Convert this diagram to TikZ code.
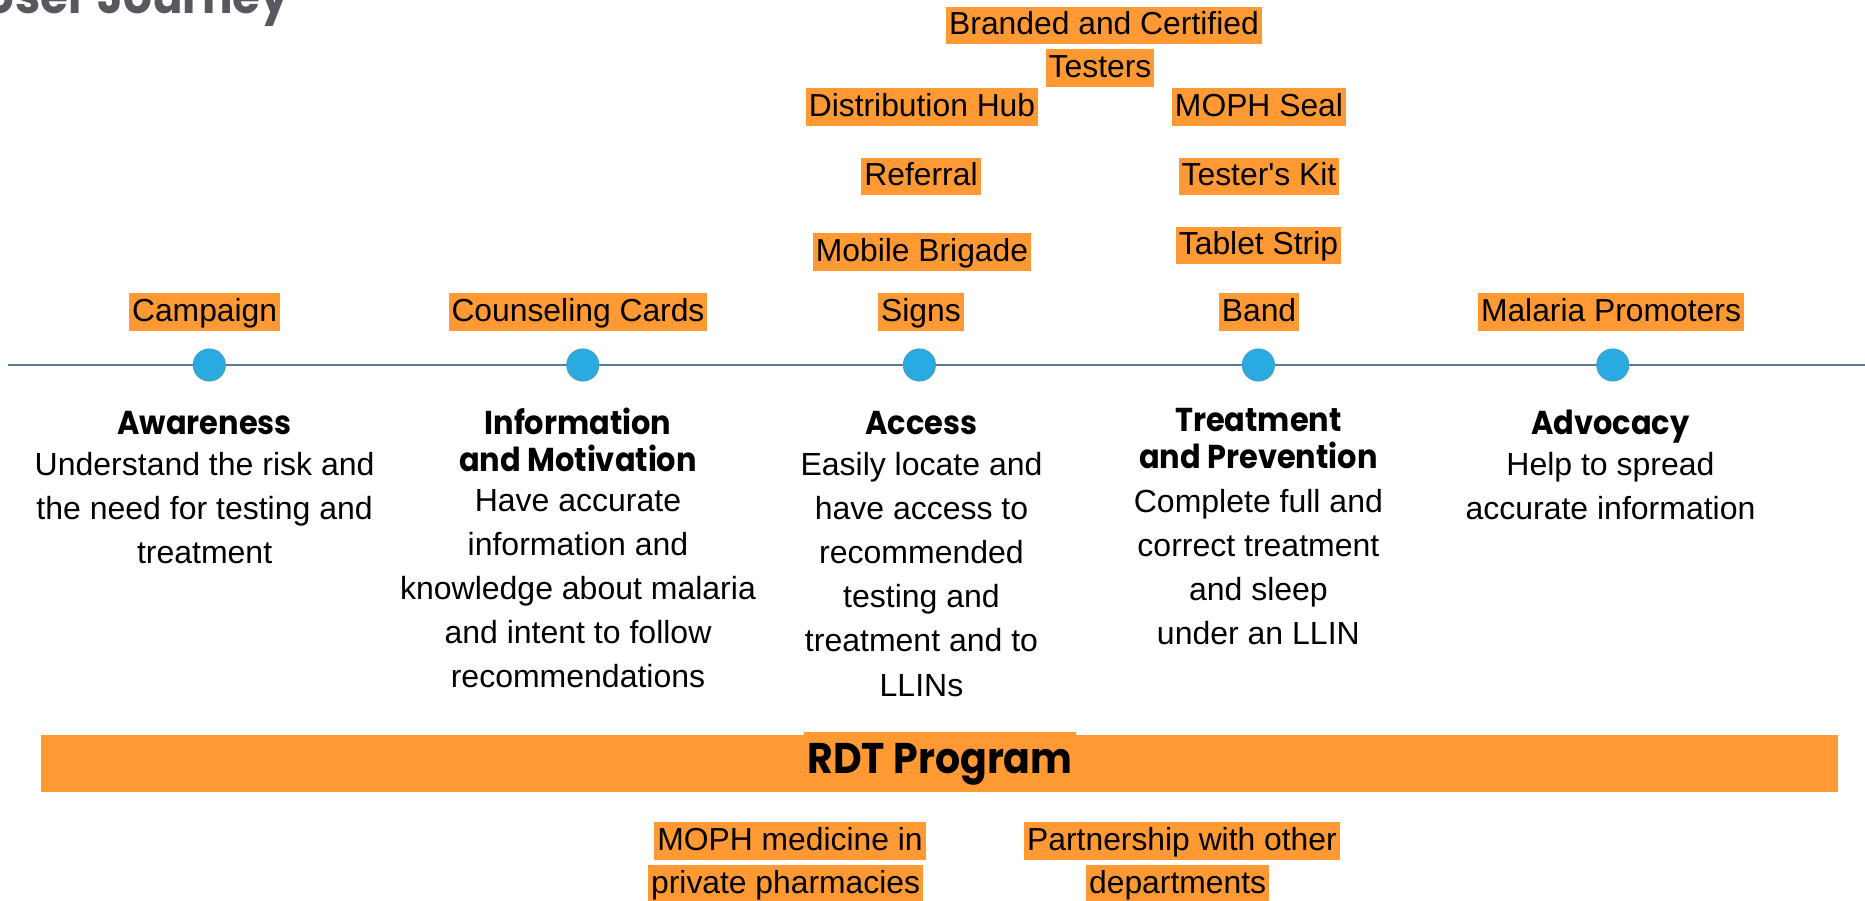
\documentclass[tikz,border=0pt]{standalone}
\usepackage{fontspec}
\setmainfont{Liberation Sans}
\newfontfamily\gothic{Poppins}[FakeStretch=0.92]
\newcommand\gothicfont[2]{\gothic\bfseries\fontsize{#1}{#2}\selectfont}
\definecolor{tagorange}{RGB}{255,153,51}
\definecolor{dotblue}{RGB}{41,171,226}
\definecolor{linegray}{RGB}{88,124,150}
\definecolor{titlegray}{RGB}{88,89,94}
\begin{document}
\begin{tikzpicture}[x=.01cm,y=-.01cm,
 tag/.style={fill=tagorange,font=\fontsize{9.05}{10}\selectfont,inner xsep=.85pt,
   inner ysep=0pt,text height=8.05pt,text depth=2.62pt,anchor=north},
 dot/.style={circle,fill=dotblue,draw=dotblue!75!gray,line width=.3pt,
   minimum size=.32cm,inner sep=0pt},
 stage/.style={font=\gothicfont{9.4}{10.53},align=center,anchor=north,inner sep=0pt,
   execute at begin node={\rule{0pt}{7.5pt}}},
 blurb/.style={font=\fontsize{9.1}{12.52}\selectfont,align=center,anchor=north,inner sep=0pt}]
 \useasboundingbox (0,0) rectangle (1865,901);
 \node[anchor=base east,inner sep=0pt,text=titlegray,font=\gothicfont{14}{16}]
   (title) at (290,13.3) {User Journey};
 \coordinate (tl-start) at (8,365);
 \coordinate (tl-end) at (1865,365);
 \draw[linegray,line width=.7pt] (tl-start) -- (tl-end);
 \foreach \n/\x in {1/209.3,2/582.8,3/919.4,4/1258.4,5/1612.8}
   \node[dot] (dot\n) at (\x,365) {};
 \foreach \n/\x/\y/\t in {brand/1104/6/Branded and Certified\ ,testers/1100/48.5/Testers,
     hub/922/87.5/Distribution Hub,seal/1259/87.5/MOPH Seal,
     referral/921/157/Referral,kit/1259/157/Tester\textquotesingle{}s Kit,
     brigade/922/232.5/Mobile Brigade,strip/1258.5/226/Tablet Strip,
     signs/921/292.5/Signs,band/1259/292.5/Band,campaign/204.6/292.5/Campaign,
     cards/578/292.5/Counseling Cards,promoters/1611/292.5/Malaria Promoters,
     pharm-a/790/821.5/MOPH medicine in\ ,pharm-b/785.6/864/private pharmacies,
     dept-a/1182/821.5/Partnership with other\ ,dept-b/1177.6/864/departments}
   \node[tag] (\n) at (\x,\y) {\t};
 \foreach \n/\x/\h/\by/\b in {
     aware/204.6/{Awareness}/452/{Understand the risk and\\the need for testing and\\treatment},
     info/578/{Information\\and Motivation}/489/{Have accurate\\information and\\knowledge about malaria\\and intent to follow\\recommendations},
     access/921.5/{Access}/452/{Easily locate and\\have access to\\recommended\\testing and\\treatment and to\\LLINs},
     treat/1258.4/{Treatment\\and Prevention}/489/{Complete full and\\correct treatment\\and sleep\\under an LLIN},
     advoc/1610.5/{Advocacy}/452/{Help to spread\\accurate information}}{
   \node[stage] (\n-head) at (\x,407.6) {\h};
   \node[blurb] (\n-text) at (\x,\by) {\b};
 }
 \node[fill=tagorange,inner sep=0pt,minimum width=17.96cm,minimum height=.567cm]
   (rdt-bar) at (939.7,763.35) {};
 \node[fill=tagorange,anchor=base,inner xsep=.85pt,inner ysep=0pt,text height=11.75pt,
   text depth=2pt,font=\gothicfont{12.2}{13}] (rdt) at (940,773.3) {RDT Program};
\end{tikzpicture}
\end{document}
